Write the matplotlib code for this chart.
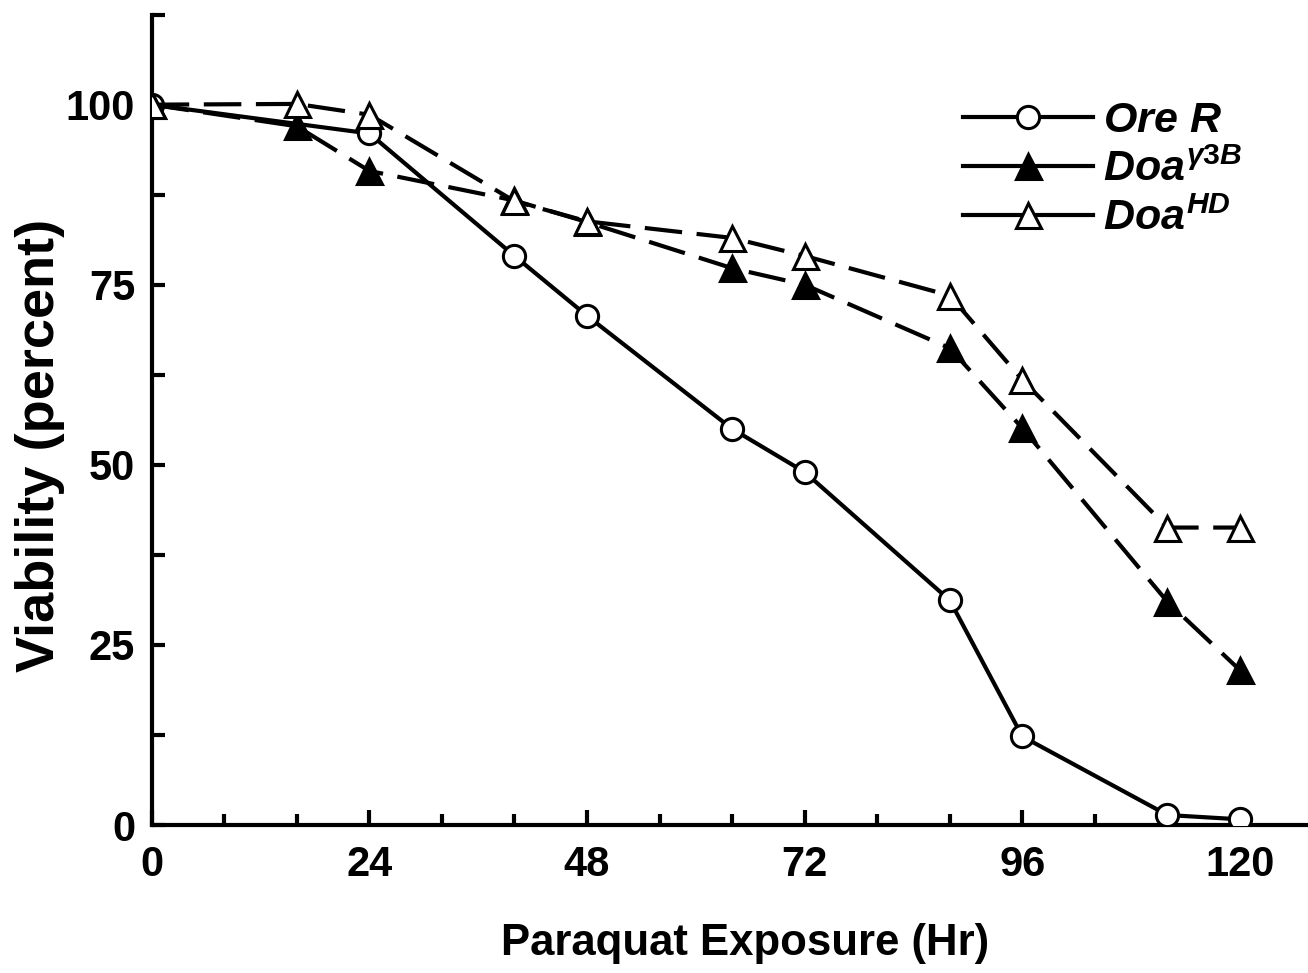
import matplotlib
matplotlib.use('Agg')
import matplotlib.pyplot as plt
from matplotlib.ticker import MultipleLocator

plt.rcParams['font.family'] = ['Liberation Sans', 'DejaVu Sans']
plt.rcParams['font.weight'] = 'bold'
plt.rcParams['mathtext.fontset'] = 'custom'
plt.rcParams['mathtext.it'] = 'Liberation Sans:italic:bold'
plt.rcParams['mathtext.rm'] = 'Liberation Sans:bold'

hours = [0, 16, 24, 40, 48, 64, 72, 88, 96, 112, 120]
hours_ore = [0, 24, 40, 48, 64, 72, 88, 96, 112, 120]

ore_r = [100, 96, 79, 70.7, 55, 49, 31.2, 12.3, 1.4, 0.8]
doa_g3b = [100, 97, 90.8, 86.7, 83.7, 77.3, 75, 66.2, 55.1, 31, 21.5]
doa_hd = [100, 100.1, 98.6, 86.6, 83.8, 81.5, 79, 73.5, 61.8, 41.3, 41.3]

fig = plt.figure(figsize=(13.08, 9.73), dpi=100)
ax = fig.add_axes([0.116, 0.152, 0.884, 0.833])

lw = 3
dash = (9, 3.5)
ax.plot(hours_ore, ore_r, '-', color='black', lw=lw, marker='o', ms=16,
        mfc='white', mec='black', mew=2.2, label=r'$\mathit{Ore\ R}$', zorder=3)
ax.plot(hours, doa_g3b, '--', dashes=dash, color='black', lw=lw, marker='^', ms=18,
        mfc='black', mec='black', mew=2.2, label=r'$\mathit{Doa}^{\mathit{\gamma 3B}}$', zorder=4)
ax.plot(hours, doa_hd, '--', dashes=dash, color='black', lw=lw, marker='^', ms=18,
        mfc='white', mec='black', mew=2.2, label=r'$\mathit{Doa}^{\mathit{HD}}$', zorder=5)

ax.set_xlim(0, 127.5)
ax.set_ylim(0, 112.5)
for s in ['top', 'right']:
    ax.spines[s].set_visible(False)
for s in ['left', 'bottom']:
    ax.spines[s].set_linewidth(3)

ax.xaxis.set_major_locator(MultipleLocator(24))
ax.xaxis.set_minor_locator(MultipleLocator(8))
ax.set_yticks([0, 25, 50, 75, 100])
ax.yaxis.set_minor_locator(MultipleLocator(12.5))
ax.tick_params(axis='both', which='both', direction='in', width=3, labelsize=30)
ax.tick_params(axis='x', which='major', length=11, pad=14)
ax.tick_params(axis='x', which='minor', length=8)
ax.tick_params(axis='y', which='both', length=9, pad=12)
for lab in ax.get_xticklabels() + ax.get_yticklabels():
    lab.set_fontweight('bold')

xl = ax.set_xlabel('Paraquat Exposure (Hr)', fontsize=31.5, fontweight='bold')
yl = ax.set_ylabel('Viability (percent)', fontsize=39, fontweight='bold')
xl.set_va('center')
yl.set_va('center')
ax.xaxis.set_label_coords(0.513, -0.146)
ax.yaxis.set_label_coords(-0.097, 0.469)

leg = ax.legend(loc='upper right', bbox_to_anchor=(0.962, 0.92), frameon=False,
                fontsize=31, handlelength=3.0, handletextpad=0.25, labelspacing=0.2,
                borderpad=0)
for h in leg.legend_handles:
    h.set_linestyle('-')

fig.savefig('out.png', dpi=100)
